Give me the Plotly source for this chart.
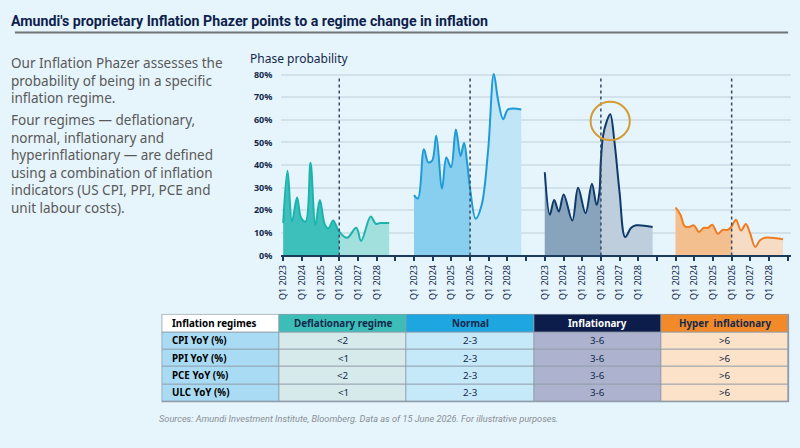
import plotly.graph_objects as go

# ---------------- data ----------------
# t = years since Q1 2023 ; values = phase probability (%)
panel_names = ["Deflationary", "Normal", "Inflationary", "Hyper inflationary"]
year_labels = ["Q1 2023", "Q1 2024", "Q1 2025", "Q1 2026", "Q1 2027", "Q1 2028"]
split_t = 3.0  # Q1 2026 (dotted line)

defl_t = [0, 0.23, 0.47, 0.74, 0.96, 1.2, 1.46, 1.72, 1.96, 2.23, 2.42, 2.67, 2.84, 3.0, 3.42, 3.91, 4.17, 4.68, 4.95, 5.2, 5.67]
defl_v = [14.3, 37.5, 15, 25.6, 16.5, 15, 41, 13.6, 24.5, 13.6, 12, 15.5, 13, 10.5, 7.8, 12.2, 6.4, 17.2, 14, 14.3, 14.3]

norm_t = [0, 0.21, 0.53, 0.76, 0.97, 1.19, 1.5, 1.73, 1.98, 2.24, 2.49, 2.68, 2.84, 3.0, 3.3, 3.62, 3.97, 4.27, 4.5, 4.77, 5.04, 5.74]
norm_v = [26.7, 25.2, 47, 41.2, 41.9, 53, 29.6, 43.3, 39, 55.7, 44, 49.9, 41.2, 29.6, 16.2, 22.3, 47, 80.3, 68.7, 60.3, 64.6, 64.6]

infl_t = [0, 0.27, 0.5, 0.75, 1.01, 1.47, 1.78, 2.18, 2.52, 2.77, 2.92, 3.0, 3.12, 3.3, 3.5, 3.73, 4.0, 4.3, 4.62, 4.89, 5.77]
infl_v = [36.8, 18, 24.5, 19.4, 27, 15.4, 29.9, 18.7, 31.7, 22.3, 28, 42, 53, 59, 62.5, 50, 28, 8.1, 12.2, 13.3, 12.6]

hyper_t = [0, 0.26, 0.49, 0.72, 0.98, 1.25, 1.5, 1.73, 1.96, 2.26, 2.52, 2.79, 3.0, 3.23, 3.5, 3.76, 3.98, 4.26, 4.52, 4.79, 5.75]
hyper_v = [21.2, 18, 12.9, 12.6, 13.3, 10.4, 12.2, 12.2, 13.6, 9.6, 11.3, 11.3, 12.9, 15.8, 11, 13.9, 10, 3.8, 6.7, 7.8, 7.1]

# highlighted peak (circle) in the inflationary panel
circle_t = 3.5
circle_v = 59.5

# table
table_header = ["Inflation regimes", "Deflationary regime", "Normal", "Inflationary", "Hyper  inflationary"]
table_rows = ["CPI YoY (%)", "PPI YoY (%)", "PCE YoY (%)", "ULC YoY (%)"]
defl_range = ["<2", "<1", "<2", "<1"]
norm_range = ["2-3", "2-3", "2-3", "2-3"]
infl_range = ["3-6", "3-6", "3-6", "3-6"]
hyper_range = [">6", ">6", ">6", ">6"]

# ---------------- styles ----------------
BG = "#E6F4FB"
NAVY = "#13294B"
line_cols = ["#1CB3AE", "#1E9AD6", "#0F3A6A", "#EF7B22"]
dark_cols = ["#3DC0BC", "#88CEEE", "#88A4BD", "#F4BF8E"]
light_cols = ["#A2E0DE", "#BFE5F6", "#BECEDC", "#F6DCC5"]
PANEL_W = 7  # each panel spans 6 years + 1 year gap
AX = -6      # annotation left-offset compensation (px)

series = [(defl_t, defl_v), (norm_t, norm_v), (infl_t, infl_v), (hyper_t, hyper_v)]

fig = go.Figure()
for i, (t, v) in enumerate(series):
    x = [i * PANEL_W + tt for tt in t]
    fig.add_trace(go.Scatter(x=x, y=v, mode="lines", line=dict(width=0, shape="spline"),
                             fill="tozeroy", fillcolor=light_cols[i], hoverinfo="skip", showlegend=False))
    xd = [xx for xx, tt in zip(x, t) if tt <= split_t]
    vd = [vv for vv, tt in zip(v, t) if tt <= split_t]
    fig.add_trace(go.Scatter(x=xd, y=vd, mode="lines", line=dict(width=0, shape="spline"),
                             fill="tozeroy", fillcolor=dark_cols[i], hoverinfo="skip", showlegend=False))
    fig.add_trace(go.Scatter(x=x, y=v, mode="lines", name=panel_names[i],
                             line=dict(width=2, color=line_cols[i], shape="spline"), showlegend=False))
    fig.add_shape(type="line", xref="x", yref="y", x0=i * PANEL_W + split_t, x1=i * PANEL_W + split_t,
                  y0=0, y1=79, line=dict(color="#33475F", width=1.5, dash="dot"), layer="above")

cx = 2 * PANEL_W + circle_t
fig.add_shape(type="circle", xref="x", yref="y", x0=cx - 1.05, x1=cx + 1.05,
              y0=circle_v - 8.5, y1=circle_v + 8.5, line=dict(color="#D39B33", width=2))

tickvals = list(range(4 * PANEL_W))
ticktext = [year_labels[k % PANEL_W] if k % PANEL_W < 6 else "" for k in tickvals]

# ---------------- table as heatmap on its own axes ----------------
col_w = [118, 128, 128, 128, 128]
row_h = [18, 17.6, 17.6, 17.6, 17.6]
x_edges = [0]
for w in col_w:
    x_edges.append(x_edges[-1] + w)
y_edges = [0]
for h in row_h:
    y_edges.append(y_edges[-1] + h)
header_fill = ["#FFFFFF", "#3CBDB8", "#1DA6E0", "#0D1D4B", "#F28A2A"]
body_fill = ["#A9DCF4", "#D6E9EB", "#C6E9F9", "#ADB3CE", "#FCE2C8"]
all_fill = header_fill + body_fill
n = len(all_fill)
cscale = []
for k, c in enumerate(all_fill):
    cscale.append([k / n, c])
    cscale.append([(k + 1) / n, c])
z = [list(range(5))] + [list(range(5, 10)) for _ in table_rows]
fig.add_trace(go.Heatmap(x=x_edges, y=y_edges, z=z, colorscale=cscale, zmin=-0.5, zmax=n - 0.5,
                         showscale=False, xgap=1, ygap=1, hoverinfo="skip", xaxis="x2", yaxis="y2"))
fig.add_shape(type="rect", xref="x2", yref="y2", x0=-1, x1=x_edges[-1] + 1, y0=-1, y1=y_edges[-1] + 1,
              fillcolor="#8F9BA8", line=dict(width=0), layer="below")

columns = [table_rows, defl_range, norm_range, infl_range, hyper_range]
header_font_col = ["#000000", NAVY, NAVY, "#FFFFFF", NAVY]
for c, h in enumerate(table_header):
    xc = x_edges[c] + 8 if c == 0 else (x_edges[c] + x_edges[c + 1]) / 2
    fig.add_annotation(xref="x2", yref="y2", x=xc, y=(y_edges[0] + y_edges[1]) / 2,
                       xanchor="left" if c == 0 else "center", yanchor="middle", showarrow=False,
                       text=f"<b>{h}</b>", font=dict(size=9.8, color=header_font_col[c]))
for c, col in enumerate(columns):
    for r, val in enumerate(col):
        xc = x_edges[c] + 8 if c == 0 else (x_edges[c] + x_edges[c + 1]) / 2
        txt = f"<b>{val}</b>" if c == 0 else val
        fig.add_annotation(xref="x2", yref="y2", x=xc, y=(y_edges[r + 1] + y_edges[r + 2]) / 2,
                           xanchor="left" if c == 0 else "center", yanchor="middle", showarrow=False,
                           text=txt, font=dict(size=9.8, color="#000000" if c == 0 else NAVY))

x0p, x1p = 278.1, 791.4
ybot, ytop = 258, 258 - 82 * 2.3
tx0, ty0 = 158.3, 318.3  # table top-left pixel
fig.update_layout(
    width=800, height=448,
    margin=dict(l=0, r=0, t=0, b=0),
    paper_bgcolor=BG, plot_bgcolor=BG,
    font=dict(family="Noto Sans", color=NAVY),
    xaxis=dict(domain=[x0p / 800, x1p / 800], range=[-0.1, 27.2], tickvals=tickvals, ticktext=ticktext,
               tickangle=-90, ticks="outside", ticklen=4, tickwidth=2, tickcolor="#1B3A5C",
               showline=True, linecolor="#1B3A5C", linewidth=2, showgrid=False, zeroline=False,
               tickfont=dict(size=9, color=NAVY)),
    yaxis=dict(domain=[1 - ybot / 448, 1 - ytop / 448], range=[0, 82], tickvals=list(range(0, 81, 10)),
               ticktext=[f"{k}%" for k in range(0, 81, 10)], showgrid=True, gridcolor="#D2E2EA",
               gridwidth=1.5, zeroline=False, showline=False, ticks="", ticklabelstandoff=8,
               tickfont=dict(size=9, color=NAVY, weight="bold")),
    xaxis2=dict(domain=[(tx0 - 1) / 800, (tx0 + x_edges[-1] + 1) / 800], range=[-1, x_edges[-1] + 1],
                visible=False, anchor="y2", fixedrange=True),
    yaxis2=dict(domain=[1 - (ty0 + y_edges[-1] + 1) / 448, 1 - (ty0 - 1) / 448], range=[y_edges[-1] + 1, -1],
                visible=False, anchor="x2", fixedrange=True),
)

# title + underline
fig.add_annotation(xref="paper", yref="paper", x=(10 + AX) / 800, y=1 - 19 / 448, xanchor="left", yanchor="middle",
                   text="<b>Amundi's proprietary Inflation Phazer points to a regime change in inflation</b>",
                   showarrow=False, font=dict(size=14.2, color="#0E1F4D", family="Liberation Sans Narrow, Roboto"))
fig.add_shape(type="line", xref="paper", yref="paper", x0=10 / 800, x1=788 / 800, y0=1 - 31 / 448, y1=1 - 31 / 448,
              line=dict(color="#6E7378", width=2))

# left text
fig.add_annotation(xref="paper", yref="paper", x=(10 + AX) / 800, y=1 - 51 / 448, xanchor="left", yanchor="top", align="left",
                   text="Our Inflation Phazer assesses the<br>probability of being in a specific<br>inflation regime.",
                   showarrow=False, font=dict(size=13.5, color="#595959", family="Noto Sans"))
fig.add_annotation(xref="paper", yref="paper", x=(10 + AX) / 800, y=1 - 109 / 448, xanchor="left", yanchor="top", align="left",
                   text="Four regimes \u2014 deflationary,<br>normal, inflationary and<br>hyperinflationary \u2014 are defined<br>"
                        "using a combination of inflation<br>indicators (US CPI, PPI, PCE and<br>unit labour costs).",
                   showarrow=False, font=dict(size=13.5, color="#595959", family="Noto Sans"))

# axis title
fig.add_annotation(xref="paper", yref="paper", x=(251 + AX) / 800, y=1 - 58 / 448, xanchor="left", yanchor="middle",
                   text="Phase probability", showarrow=False, font=dict(size=12, color=NAVY))

# footer
fig.add_annotation(xref="paper", yref="paper", x=(159 + AX) / 800, y=1 - 424 / 448, xanchor="left", yanchor="middle",
                   text="<i>Sources: Amundi Investment Institute, Bloomberg. Data as of 15 June 2026. For illustrative purposes.</i>",
                   showarrow=False, font=dict(size=9.2, color="#8A8F96", family="Liberation Sans Narrow, Roboto"))

fig.write_html("out.html")
